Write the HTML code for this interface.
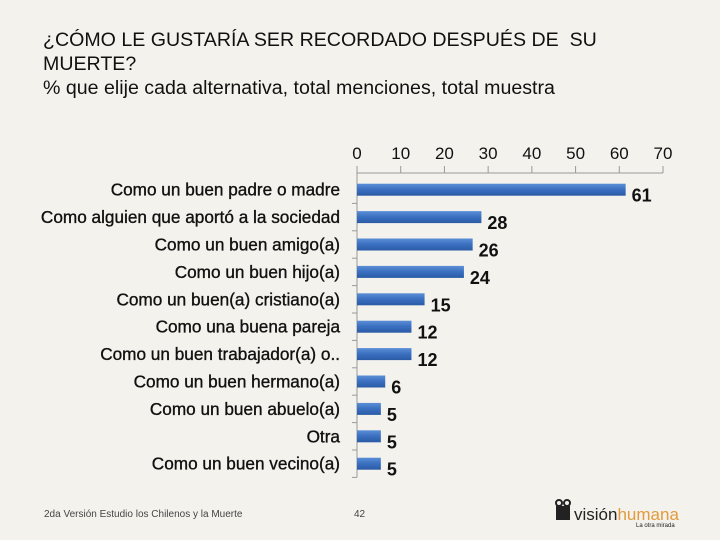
<!DOCTYPE html>
<html><head><meta charset="utf-8"><style>
body{margin:0;width:720px;height:540px;background:#f3f2ed;overflow:hidden;font-family:"Liberation Sans",sans-serif;position:relative}
#title{position:absolute;left:43px;top:28px;font-size:19.6px;line-height:24px;color:#111}
#foot{position:absolute;left:44px;top:509px;font-size:10px;color:#444}
#pg{position:absolute;left:354px;top:509px;font-size:10px;color:#444}
</style></head><body>
<div id="title">¿CÓMO LE GUSTARÍA SER RECORDADO DESPUÉS DE&nbsp; SU<br>MUERTE?<br>% que elije cada alternativa, total menciones, total muestra</div>
<svg id="chart" width="720" height="540" style="position:absolute;left:0;top:0">
<defs><linearGradient id="g" x1="0" y1="0" x2="0" y2="1"><stop offset="0" stop-color="#5b8fd6"/><stop offset="0.5" stop-color="#3a6fc0"/><stop offset="1" stop-color="#2a5aa5"/></linearGradient></defs>
</svg>
<div id="foot">2da Versión Estudio los Chilenos y la Muerte</div>
<div id="pg">42</div>
<svg width="140" height="40" style="position:absolute;left:550px;top:496px">
<rect x="6" y="10" width="14" height="14" fill="#222"/><circle cx="9" cy="7" r="3" fill="none" stroke="#222" stroke-width="2"/><circle cx="17" cy="7" r="3" fill="none" stroke="#222" stroke-width="2"/>
<text x="24" y="24" font-size="17" fill="#222" font-family="Liberation Sans">visión<tspan fill="#e39a3c">humana</tspan></text>
<text x="86" y="31" font-size="6" fill="#222">La otra mirada</text>
</svg>
<script>
const categories=["Como un buen padre o madre","Como alguien que aportó a la sociedad","Como un buen amigo(a)","Como un buen hijo(a)","Como un buen(a) cristiano(a)","Como una buena pareja","Como un buen trabajador(a) o..","Como un buen hermano(a)","Como un buen abuelo(a)","Otra","Como un buen vecino(a)"];
const values=[61,28,26,24,15,12,12,6,5,5,5];
const ticks=[0,10,20,30,40,50,60,70];
const svg=document.getElementById('chart');
const NS='http://www.w3.org/2000/svg';
const x0=357,x1=663,vmax=70,yTop=176,step=27.4,bh=12;
const xs=v=>x0+(v/vmax)*(x1-x0);
const yc=i=>yTop+step*(i+0.5);
function mk(t,a){const e=document.createElementNS(NS,t);for(const k in a)e.setAttribute(k,a[k]);svg.appendChild(e);return e;}
const F='"Liberation Sans","DejaVu Sans",sans-serif';
let ax=mk('line',{x1:x0,y1:173,x2:x1,y2:173,stroke:'#999'});

let ay=mk('line',{x1:x0,y1:173,x2:x0,y2:yTop+step*categories.length,stroke:'#999'});

ticks.forEach(t=>{
 let l=mk('line',{x1:xs(t),y1:166,x2:xs(t),y2:173,stroke:'#999'});
 
 let tx=mk('text',{x:xs(t),y:159,'text-anchor':'middle','font-size':17,'font-family':F,fill:'#111'});
 tx.textContent=t;
 
});
categories.forEach((c,i)=>{
 const y=yc(i);
 let tk=mk('line',{x1:x0-5,y1:yTop+step*(i+1),x2:x0,y2:yTop+step*(i+1),stroke:'#999'});
 
 let lb=mk('text',{x:340,y:y+6,'text-anchor':'end','font-size':17.2,'font-family':F,fill:'#111',stroke:'#111','stroke-width':0.35});
 lb.textContent=c;
 
 let r=mk('rect',{x:x0,y:y-bh/2,width:xs(values[i])-x0+2,height:bh,fill:'url(#g)'});
 
 let v=mk('text',{x:xs(values[i])+8,y:y+12,'font-size':18,'font-weight':'bold','font-family':F,fill:'#111'});
 v.textContent=values[i];
 
});
</script>
</body></html>
